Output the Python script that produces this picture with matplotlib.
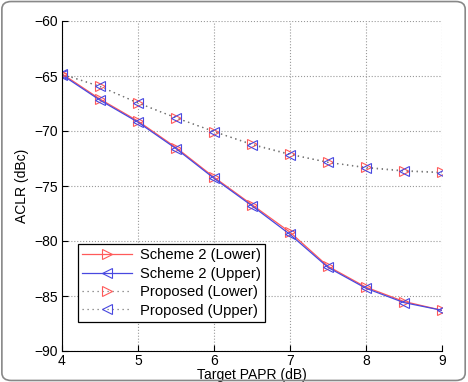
import matplotlib
matplotlib.use('Agg')
import matplotlib.pyplot as plt
from matplotlib.patches import FancyBboxPatch

# target PAPR (dB)
papr = [4, 4.5, 5, 5.5, 6, 6.5, 7, 7.5, 8, 8.5, 9]

# ACLR (dBc)
scheme2_lower = [-64.8, -67.1, -69.1, -71.5, -74.2, -76.7, -79.2, -82.3, -84.2, -85.5, -86.3]
scheme2_upper = [-64.9, -67.2, -69.2, -71.6, -74.3, -76.8, -79.4, -82.4, -84.3, -85.6, -86.3]
proposed_lower = [-64.8, -65.95, -67.45, -68.8, -70.05, -71.2, -72.1, -72.85, -73.3, -73.6, -73.75]
proposed_upper = [-64.85, -65.95, -67.45, -68.8, -70.05, -71.25, -72.15, -72.85, -73.35, -73.65, -73.8]

plt.rcParams['font.family'] = ['Liberation Sans', 'DejaVu Sans']
plt.rcParams['font.size'] = 10

fig = plt.figure(figsize=(4.68, 3.82), dpi=100)
ax = fig.add_axes([62 / 468, 31 / 382, 380 / 468, 330 / 382])

# rounded frame round the whole figure
frame = FancyBboxPatch((0.004, 0.004), 0.99, 0.992, boxstyle='round,pad=0,rounding_size=0.02',
                       transform=fig.transFigure, fill=False, edgecolor='#888888', linewidth=1.2)
fig.patches.append(frame)

red = '#ff5a5a'
blue = '#4848e0'
mk = dict(markersize=7, markerfacecolor='none', markeredgewidth=0.8)
ax.plot(papr, scheme2_lower, '->', color=red, linewidth=0.9, label='Scheme 2 (Lower)', **mk)
ax.plot(papr, scheme2_upper, '-<', color=blue, linewidth=0.9, label='Scheme 2 (Upper)', **mk)
ax.plot(papr, proposed_lower, ':>', color='#777777', markeredgecolor=red, linewidth=0.9,
        dashes=(1, 3), label='Proposed (Lower)', **mk)
ax.plot(papr, proposed_upper, ':<', color='#777777', markeredgecolor=blue, linewidth=0.9,
        dashes=(1, 3), label='Proposed (Upper)', **mk)

ax.set_xlim(4, 9)
ax.set_ylim(-90, -60)
ax.set_xticks([4, 5, 6, 7, 8, 9])
ax.set_yticks(range(-90, -59, 5))
ax.set_xlabel('Target PAPR (dB)', labelpad=0)
ax.set_ylabel('ACLR (dBc)')
ax.grid(True, linestyle=':', color='#999999', linewidth=0.8)
ax.tick_params(direction='in', length=4, pad=3)
ax.tick_params(axis='x', pad=2)
# box off: only left and bottom axis lines, grid closes the top and right
ax.spines['top'].set_visible(False)
ax.spines['right'].set_visible(False)

leg = ax.legend(loc='lower left', bbox_to_anchor=(0.042, 0.088), borderaxespad=0,
                fancybox=False, edgecolor='black', framealpha=1, handlelength=3.4,
                borderpad=0.3, labelspacing=0.3, fontsize=10.6, handletextpad=0.5)
leg.get_frame().set_linewidth(0.9)

plt.savefig('out.png', dpi=100)
